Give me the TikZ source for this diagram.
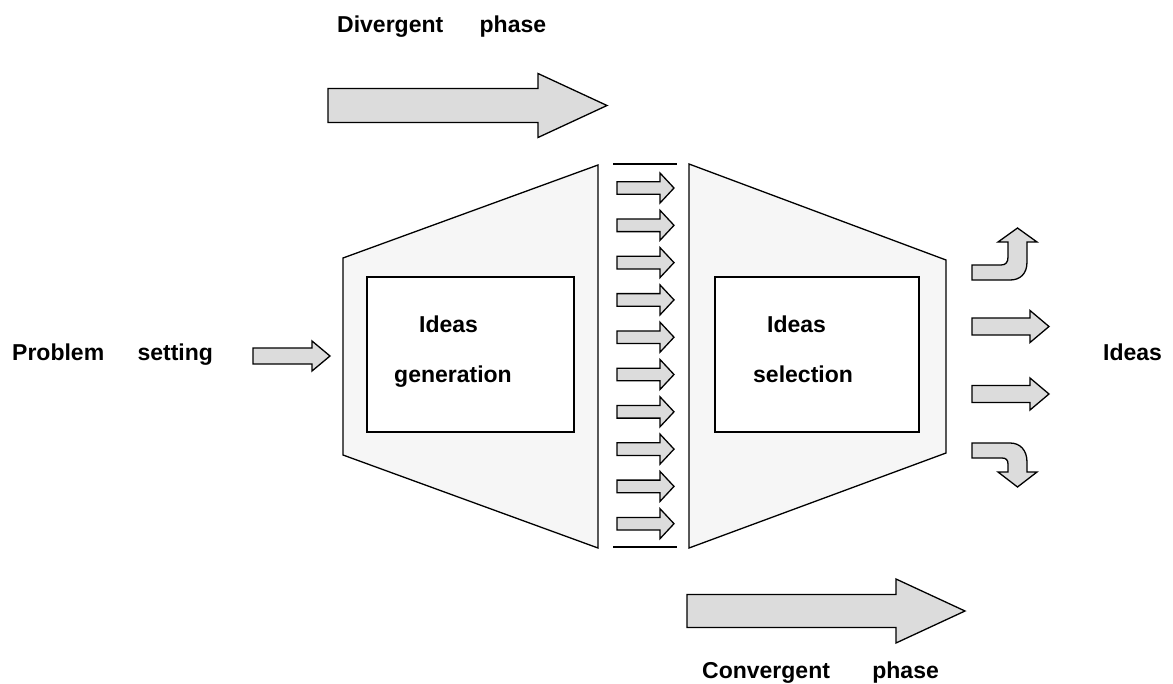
\documentclass[tikz,border=0pt]{standalone}
\usepackage{fontspec}
\setmainfont{Liberation Sans}
\definecolor{arrowgray}{HTML}{DCDCDC}
\definecolor{panelgray}{HTML}{F6F6F6}
\tikzset{
  blockarrow/.style={draw=black, line width=1.3pt, fill=arrowgray, line join=miter},
  panel/.style={draw=black, line width=1.3pt, fill=panelgray},
  innerbox/.style={draw=black, line width=1.3pt, fill=white},
  bracketline/.style={draw=black, line width=1.3pt},
  lbl/.style={anchor=base west, inner sep=0pt, font=\fontsize{23}{27}\selectfont\bfseries}
}
\newcommand\BArrow[6]{%
  \draw[blockarrow] (#1,#2-#3) -- (#5,#2-#3) -- (#5,#2-#4) -- (#6,#2) -- (#5,#2+#4) -- (#5,#2+#3) -- (#1,#2+#3) -- cycle;}
\begin{document}
\begin{tikzpicture}[x=1pt,y=-1pt]
\useasboundingbox (0,0) rectangle (1173,683);
% big phase arrows
\BArrow{328}{105.5}{17}{32}{538}{607}
\BArrow{687}{611}{16.5}{32}{896}{965}
% panels
\draw[panel] (343,258) -- (598,165) -- (598,548) -- (343,455) -- cycle;
\draw[panel] (689,164) -- (946,260) -- (946,453) -- (689,548) -- cycle;
\draw[innerbox] (367,277) rectangle (574,432);
\draw[innerbox] (715,277) rectangle (919,432);
% middle bracket
\draw[bracketline] (613,164) -- (677,164);
\draw[bracketline] (613,547) -- (677,547);
\foreach \i in {0,...,9}{
  \pgfmathsetmacro\yy{188+37.3*\i}
  \BArrow{617}{\yy}{6.3}{15}{660}{674}
}
% input arrow
\BArrow{253}{356}{8}{15}{312}{330}
% output arrows
\BArrow{972}{326.5}{8.5}{16}{1030}{1049}
\BArrow{972}{394}{8.5}{16}{1030}{1049}
\draw[blockarrow] (972,265) -- (1001,265) .. controls (1006,265) and (1008,262) .. (1008,257) -- (1008,242) -- (998,242) -- (1017.5,228) -- (1037,242) -- (1027,242) -- (1027,262) .. controls (1027,274) and (1020,280) .. (1010,280) -- (972,280) -- cycle;
\draw[blockarrow] (972,443) -- (1010,443) .. controls (1020,443) and (1027,450) .. (1027,462) -- (1027,472) -- (1037,472) -- (1017.5,487) -- (998,472) -- (1008,472) -- (1008,464) .. controls (1008,460) and (1006,458) .. (1002,458) -- (972,458) -- cycle;
% labels
\node[lbl] (div) at (337,32) {Divergent\ \hspace{30pt}phase};
\node[lbl] (conv) at (702,678) {Convergent\ \hspace{36pt}phase};
\node[lbl] (prob) at (12,360) {Problem\ \hspace{27pt}setting};
\node[lbl] (out) at (1103,360) {Ideas};
\node[lbl] (g1) at (419,332) {Ideas};
\node[lbl] (g2) at (394,382) {generation};
\node[lbl] (s1) at (767,332) {Ideas};
\node[lbl] (s2) at (753,382) {selection};
\end{tikzpicture}
\end{document}
